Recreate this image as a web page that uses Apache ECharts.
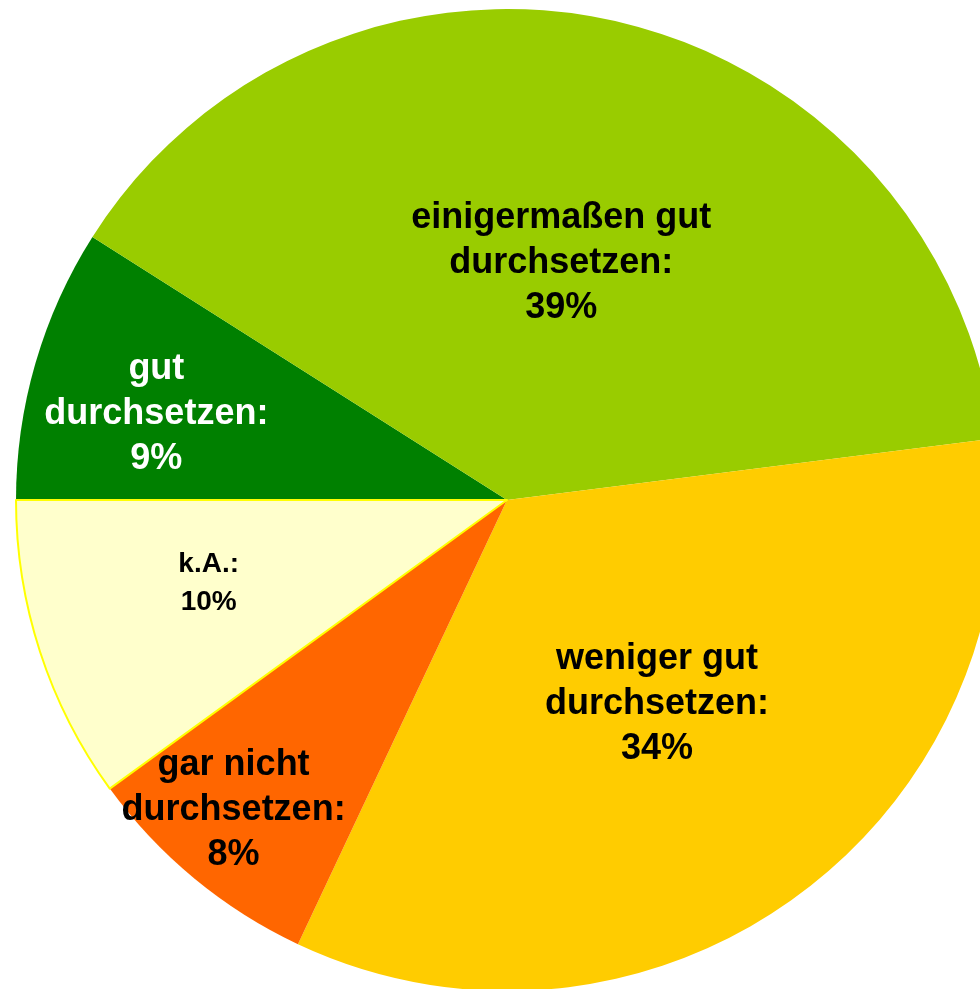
<!DOCTYPE html>
<html>
<head>
<meta charset="utf-8">
<script src="https://cdn.jsdelivr.net/npm/echarts@6/dist/echarts.min.js"></script>
<style>
html, body { margin: 0; padding: 0; background: #fff; }
#chart { width: 980px; height: 989px; }
</style>
</head>
<body>
<div id="chart"></div>
<script>
// Anteile in Prozent, im Uhrzeigersinn ab 9 Uhr
var categories = ['gut durchsetzen', 'einigermaßen gut durchsetzen', 'weniger gut durchsetzen', 'gar nicht durchsetzen', 'k.A.']
var values = [9, 39, 34, 8, 10]
var colors = ['#008000', '#99CC00', '#FFCC00', '#FF6600', '#FFFFCC']
var labelColors = ['#fff', '#000', '#000', '#000', '#000']
var labelShift = [[-112, -17], [0, 6], [4, 3], [-115, 119], [-62, 6]]

var chart = echarts.init(document.getElementById('chart'))

var data = categories.map(function (name, i) {
    var item = {
        name: name,
        value: values[i],
        itemStyle: { color: colors[i] },
        label: { color: labelColors[i] }
    }
    if (name === 'k.A.') {
        item.itemStyle.borderColor = '#FFFF00'
        item.itemStyle.borderWidth = 2
        item.label.fontSize = 28
        item.label.lineHeight = 38
    }
    return item
})

chart.setOption({
    backgroundColor: '#fff',
    animation: false,
    series: [
        {
            type: 'pie',
            center: [507, 500],
            radius: [0, 491],
            startAngle: 180,
            clockwise: true,
            silent: true,
            itemStyle: { borderWidth: 0 },
            label: {
                show: true,
                position: 'inside',
                fontFamily: 'Liberation Sans, Arial, sans-serif',
                fontWeight: 'bold',
                fontSize: 36,
                lineHeight: 45,
                align: 'center',
                formatter: function (p) {
                    return p.name.replace(' durchsetzen', '\ndurchsetzen') + ':\n' + p.value + '%'
                }
            },
            labelLine: { show: false },
            labelLayout: function (p) {
                var s = labelShift[p.dataIndex]
                return { dx: s[0], dy: s[1] }
            },
            data: data
        }
    ]
})
</script>
</body>
</html>
